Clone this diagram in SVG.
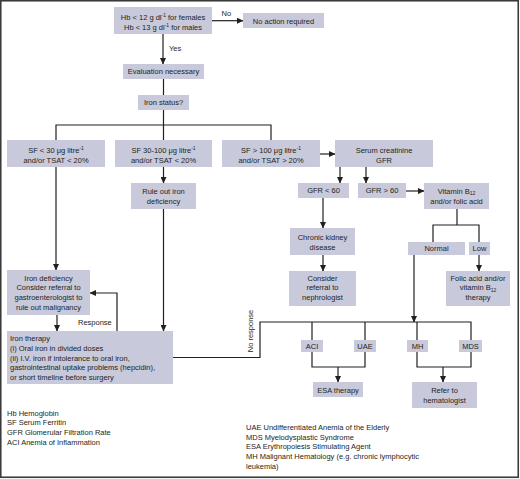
<svg xmlns="http://www.w3.org/2000/svg" width="520" height="479" viewBox="0 0 520 479">
<defs>
<marker id="ah" markerUnits="userSpaceOnUse" markerWidth="7" markerHeight="6" refX="6" refY="3" orient="auto">
<path d="M0,0 L6.5,3 L0,6 Z" fill="#231f20"/>
</marker>
<style>
.b{fill:#c8c9db}
text{font-family:"Liberation Sans",Arial,sans-serif;font-size:7.5px;fill:#231f20}
.c{text-anchor:middle}
.l{fill:none;stroke:#231f20;stroke-width:1.2}
.a{fill:none;stroke:#231f20;stroke-width:1.2;marker-end:url(#ah)}
</style>
</defs>
<rect x="0" y="0" width="520" height="479" fill="#ffffff"/>
<rect x="0.75" y="0.75" width="517.5" height="476.5" fill="none" stroke="#3a3a3a" stroke-width="1.6"/>

<g id="connectors">
<path class="a" d="M212,20.7 H243"/>
<path class="a" d="M163,34 V64"/>
<path class="l" d="M163.5,79 V95"/>
<path class="l" d="M163.5,110 V140 M56,140 V125 H271 V140"/>
<path class="a" d="M320,154 H335"/>
<path class="a" d="M340,167 V183"/>
<path class="a" d="M366,167 V183"/>
<path class="a" d="M406,191 H424"/>
<path class="l" d="M457,209 V225 M433,242 V225 H479 V242"/>
<path class="a" d="M479,255 V271"/>
<path class="a" d="M323,198 V228"/>
<path class="a" d="M323,255 V271"/>
<path class="a" d="M414,255 V322"/>
<path class="l" d="M173,357.5 H260 V322 H471 V340 M312,322 V340 M365,322 V340 M417,322 V340"/>
<path class="l" d="M312,352 V367 H365 V352 M417,352 V367 H471 V352"/>
<path class="a" d="M338,367 V382"/>
<path class="a" d="M443,367 V382"/>
<path class="a" d="M56,167 V270"/>
<path class="a" d="M163.5,167 V183"/>
<path class="a" d="M163.5,209 V331"/>
<path class="a" d="M57,315 V331"/>
<path class="a" d="M117,331 V293 H90"/>
<text x="221.5" y="15.5">No</text>
<text x="169" y="50.5">Yes</text>
<text x="78" y="325">Response</text>
<text class="c" transform="translate(253,331) rotate(-90)">No response</text>
</g>

<g id="hb"><rect class="b" x="114" y="7" width="98" height="27"/>
<text class="c" x="163" y="20">Hb &lt; 12 g dl<tspan font-size="5" dy="-3">-1</tspan><tspan dy="3"> for females</tspan></text>
<text class="c" x="163" y="30">Hb &lt; 13 g dl<tspan font-size="5" dy="-3">-1</tspan><tspan dy="3"> for males</tspan></text></g>

<g id="noaction"><rect class="b" x="243" y="13" width="81" height="15"/>
<text class="c" x="283.5" y="23.5">No action required</text></g>

<g id="evaluation"><rect class="b" x="123" y="64" width="81" height="15"/>
<text class="c" x="163.5" y="74.3">Evaluation necessary</text></g>

<g id="ironstatus"><rect class="b" x="138" y="95" width="51" height="15"/>
<text class="c" x="163.5" y="105.3">Iron status?</text></g>

<g id="sf30"><rect class="b" x="7" y="140" width="98" height="27"/>
<text class="c" x="56" y="152.5">SF &lt; 30 μg litre<tspan font-size="5" dy="-3">-1</tspan></text>
<text class="c" x="56" y="162.5">and/or TSAT &lt; 20%</text></g>

<g id="sf30100"><rect class="b" x="115" y="140" width="97" height="27"/>
<text class="c" x="163.5" y="152.5">SF 30-100 μg litre<tspan font-size="5" dy="-3">-1</tspan></text>
<text class="c" x="163.5" y="162.5">and/or TSAT &lt; 20%</text></g>

<g id="sf100"><rect class="b" x="222" y="140" width="98" height="27"/>
<text class="c" x="271" y="152.5">SF &gt; 100 μg litre<tspan font-size="5" dy="-3">-1</tspan></text>
<text class="c" x="271" y="162.5">and/or TSAT &gt; 20%</text></g>

<g id="serum"><rect class="b" x="335" y="140" width="98" height="27"/>
<text class="c" x="384" y="152.5">Serum creatinine</text>
<text class="c" x="384" y="162.5">GFR</text></g>

<g id="gfrlt"><rect class="b" x="298" y="183" width="51" height="15"/>
<text class="c" x="323.5" y="193.3">GFR &lt; 60</text></g>

<g id="gfrgt"><rect class="b" x="358" y="183" width="48" height="15"/>
<text class="c" x="382" y="193.3">GFR &gt; 60</text></g>

<g id="vitamin"><rect class="b" x="424" y="183" width="65" height="26"/>
<text class="c" x="456.5" y="193.5">Vitamin B<tspan font-size="5" dy="1.5">12</tspan></text>
<text class="c" x="456.5" y="203.5">and/or folic acid</text></g>

<g id="ruleout"><rect class="b" x="131" y="183" width="65" height="26"/>
<text class="c" x="163.5" y="193.5">Rule out iron</text>
<text class="c" x="163.5" y="203.5">deficiency</text></g>

<g id="ckd"><rect class="b" x="290" y="228" width="65" height="27"/>
<text class="c" x="322.5" y="240">Chronic kidney</text>
<text class="c" x="322.5" y="250">disease</text></g>

<g id="nephro"><rect class="b" x="289" y="271" width="67" height="35"/>
<text class="c" x="322.5" y="280.5">Consider</text>
<text class="c" x="322.5" y="290.2">referral to</text>
<text class="c" x="322.5" y="299.9">nephrologist</text></g>

<g id="normal"><rect class="b" x="408" y="242" width="57" height="13"/>
<text class="c" x="436.5" y="251.3">Normal</text></g>

<g id="low"><rect class="b" x="469" y="242" width="21" height="13"/>
<text class="c" x="479.5" y="251.3">Low</text></g>

<g id="folic"><rect class="b" x="446" y="271" width="64" height="35"/>
<text class="c" x="478" y="280.5">Folic acid and/or</text>
<text class="c" x="478" y="290.2">vitamin B<tspan font-size="5" dy="1.5">12</tspan></text>
<text class="c" x="478" y="299.9">therapy</text></g>

<g id="irondef"><rect class="b" x="7" y="270" width="83" height="45"/>
<text class="c" x="48.5" y="280.5">Iron deficiency</text>
<text class="c" x="48.5" y="290.2">Consider referral to</text>
<text class="c" x="48.5" y="299.9">gastroenterologist to</text>
<text class="c" x="48.5" y="309.6">rule out malignancy</text></g>

<g id="irontherapy"><rect class="b" x="7" y="331" width="166" height="53"/>
<text x="10" y="341">Iron therapy</text>
<text x="10" y="350.8">(i) Oral iron in divided doses</text>
<text x="10" y="360.6">(ii) I.V. iron if intolerance to oral iron,</text>
<text x="10" y="370.4">gastrointestinal uptake problems (hepcidin),</text>
<text x="10" y="380.2">or short timeline before surgery</text></g>

<g id="aci"><rect class="b" x="301" y="340" width="22" height="12"/>
<text class="c" x="312" y="348.7">ACI</text></g>
<g id="uae"><rect class="b" x="354" y="340" width="22" height="12"/>
<text class="c" x="365" y="348.7">UAE</text></g>
<g id="mh"><rect class="b" x="407" y="340" width="21" height="12"/>
<text class="c" x="417.5" y="348.7">MH</text></g>
<g id="mds"><rect class="b" x="459" y="340" width="23" height="12"/>
<text class="c" x="470.5" y="348.7">MDS</text></g>

<g id="esa"><rect class="b" x="313" y="382" width="50" height="15"/>
<text class="c" x="338" y="392.5">ESA therapy</text></g>

<g id="refer"><rect class="b" x="412" y="382" width="65" height="26"/>
<text class="c" x="444.5" y="393.3">Refer to</text>
<text class="c" x="444.5" y="403">hematologist</text></g>

<g id="legend-left">
<text x="7" y="415.5">Hb Hemoglobin</text>
<text x="7" y="425.3">SF Serum Ferritin</text>
<text x="7" y="435.1">GFR Glomerular Filtration Rate</text>
<text x="7" y="444.9">ACI Anemia of Inflammation</text>
</g>
<g id="legend-right">
<text x="246" y="430">UAE Undifferentiated Anemia of the Elderly</text>
<text x="246" y="439.7">MDS Myelodysplastic Syndrome</text>
<text x="246" y="449.4">ESA Erythropoiesis Stimulating Agent</text>
<text x="246" y="459.1">MH Malignant Hematology (e.g. chronic lymphocytic</text>
<text x="246" y="468.8">leukemia)</text>
</g>
</svg>
